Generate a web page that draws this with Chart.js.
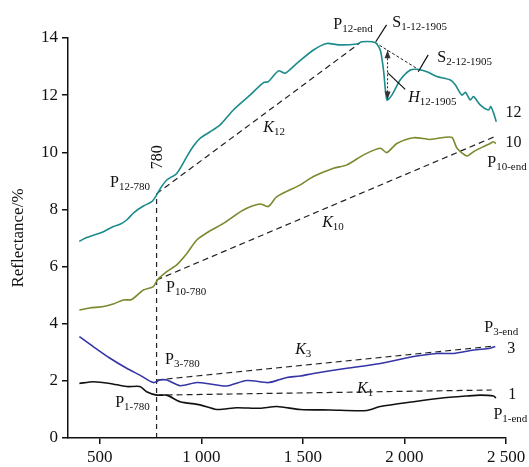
<!DOCTYPE html>
<html>
<head>
<meta charset="utf-8">
<script src="https://cdn.jsdelivr.net/npm/chart.js@4.4.0/dist/chart.umd.min.js"></script>
<style>
  html, body { margin: 0; padding: 0; background: #fff; }
  #wrap { width: 529px; height: 467px; }
</style>
</head>
<body>
<div id="wrap"><canvas id="specChart" width="529" height="467"></canvas></div>
<script>
// wavelength (nm) / reflectance (%)
var wl12 = [400, 430, 470, 518, 567, 600, 633, 670, 715, 756, 780, 800, 830, 879, 929, 960, 994, 1040, 1093, 1158, 1240, 1306, 1330, 1380, 1413, 1470, 1552, 1618, 1675, 1766, 1791, 1856, 1881, 1897, 1914, 1938, 1979, 2029, 2069, 2111, 2160, 2226, 2250, 2283, 2300, 2324, 2340, 2373, 2414, 2425, 2439, 2452];
var r12 = [6.88, 7.0, 7.1, 7.22, 7.40, 7.48, 7.63, 7.9, 8.12, 8.27, 8.5, 8.75, 9.03, 9.26, 9.85, 10.2, 10.49, 10.7, 10.96, 11.48, 12.0, 12.44, 12.47, 12.85, 12.77, 13.11, 13.58, 13.81, 13.76, 13.79, 13.87, 13.84, 13.58, 12.88, 11.83, 12.0, 12.53, 12.88, 12.9, 12.82, 12.65, 12.53, 12.36, 12.0, 12.1, 11.83, 11.95, 11.66, 11.48, 11.6, 11.37, 11.07];

var wl10 = [400, 450, 518, 570, 616, 658, 715, 764, 784, 830, 879, 929, 978, 1043, 1109, 1207, 1289, 1330, 1372, 1487, 1552, 1651, 1717, 1799, 1881, 1913, 1963, 2045, 2127, 2193, 2234, 2259, 2308, 2340, 2390, 2420, 2439, 2450];
var r10 = [4.48, 4.55, 4.6, 4.7, 4.83, 4.85, 5.18, 5.3, 5.53, 5.82, 6.06, 6.46, 6.93, 7.25, 7.51, 7.98, 8.19, 8.10, 8.45, 8.86, 9.15, 9.44, 9.56, 9.91, 10.14, 9.99, 10.31, 10.51, 10.45, 10.52, 10.52, 10.14, 9.87, 10.02, 10.2, 10.3, 10.37, 10.3];

var wl3 = [400, 468, 551, 633, 698, 764, 797, 830, 896, 978, 1043, 1125, 1224, 1330, 1388, 1421, 1487, 1552, 1717, 1881, 2045, 2160, 2242, 2340, 2422, 2447];
var r3 = [3.55, 3.2, 2.79, 2.44, 2.2, 1.94, 2.03, 2.03, 1.83, 1.94, 1.89, 1.82, 2.01, 1.94, 2.05, 2.12, 2.17, 2.26, 2.44, 2.61, 2.85, 2.96, 2.96, 3.08, 3.14, 3.2];

var wl1 = [400, 468, 551, 633, 698, 731, 781, 830, 896, 994, 1076, 1175, 1289, 1372, 1487, 1634, 1815, 1881, 2045, 2176, 2308, 2373, 2439, 2450];
var r1 = [1.91, 1.97, 1.91, 1.8, 1.8, 1.62, 1.5, 1.5, 1.27, 1.16, 1.0, 1.06, 1.04, 1.1, 1.0, 0.98, 0.96, 1.1, 1.27, 1.39, 1.47, 1.5, 1.47, 1.4];

// continuum (hull) lines: [start, end]
var k12 = [[780, 8.55], [1780, 13.82]];
var k10 = [[780, 5.53], [2445, 10.55]];
var k3 = [[780, 2.03], [2445, 3.22]];
var k1 = [[780, 1.5], [2430, 1.68]];
var cut780 = [[780, 0], [780, 8.55]];
var s12 = [[1856, 13.84], [2069, 12.9]];
var h12 = [[1917, 13.57], [1917, 11.85]];

var xTicks = [500, 1000, 1500, 2000, 2500];

var SERIF = '"Liberation Serif", "Times New Roman", serif';

function pts(xs, ys) { return xs.map(function (x, i) { return { x: x, y: ys[i] }; }); }
function seg(p) { return p.map(function (q) { return { x: q[0], y: q[1] }; }); }

function curve(xs, ys, color) {
  return { data: pts(xs, ys), borderColor: color, borderWidth: 1.6, pointRadius: 0, tension: 0.25, fill: false };
}
function dashed(p, dash, w) {
  return { data: seg(p), borderColor: '#222', borderWidth: w || 1.2, borderDash: dash || [6, 4], pointRadius: 0, fill: false };
}

// text annotations, anchored in data units
var notes = [
  { x: 551, y: 8.93, m: 'P', s: '12-780' },
  { x: 1305, y: 10.85, m: 'K', s: '12', it: true },
  { x: 1650, y: 14.46, m: 'P', s: '12-end' },
  { x: 1940, y: 14.53, m: 'S', s: '1-12-1905' },
  { x: 2162, y: 13.3, m: 'S', s: '2-12-1905' },
  { x: 2019, y: 11.9, m: 'H', s: '12-1905', it: true },
  { x: 2408, y: 9.63, m: 'P', s: '10-end' },
  { x: 1595, y: 7.53, m: 'K', s: '10', it: true },
  { x: 827, y: 5.25, m: 'P', s: '10-780' },
  { x: 822, y: 2.73, m: 'P', s: '3-780' },
  { x: 1462, y: 3.08, m: 'K', s: '3', it: true },
  { x: 2393, y: 3.85, m: 'P', s: '3-end' },
  { x: 1767, y: 1.72, m: 'K', s: '1', it: true },
  { x: 2438, y: 0.8, m: 'P', s: '1-end' },
  { x: 576, y: 1.23, m: 'P', s: '1-780' },
  { x: 2497, y: 11.38, m: '12' },
  { x: 2497, y: 10.33, m: '10' },
  { x: 2506, y: 3.12, m: '3' },
  { x: 2511, y: 1.5, m: '1' }
];
var leaders = [
  [[1912, 14.46], [1859, 13.87]],
  [[2117, 13.41], [2068, 12.82]],
  [[2004, 12.2], [1917, 12.79]]
];

var notePlugin = {
  id: 'notes',
  afterDraw: function (chart) {
    var c = chart.ctx, xs = chart.scales.x, ys = chart.scales.y;
    c.save();
    c.fillStyle = '#111';
    c.textBaseline = 'middle';
    c.textAlign = 'left';
    notes.forEach(function (n) {
      var px = xs.getPixelForValue(n.x), py = ys.getPixelForValue(n.y);
      c.font = (n.it ? 'italic ' : '') + '16px ' + SERIF;
      c.fillText(n.m, px, py);
      if (n.s) {
        var w = c.measureText(n.m).width;
        c.font = '11px ' + SERIF;
        c.fillText(n.s, px + w, py + 4);
      }
    });
    // rotated 780 label
    c.save();
    c.translate(xs.getPixelForValue(787), ys.getPixelForValue(9.83));
    c.rotate(-Math.PI / 2);
    c.textAlign = 'center';
    c.font = '16px ' + SERIF;
    c.fillText('780', 0, 0);
    c.restore();
    // leader lines
    c.strokeStyle = '#111';
    c.lineWidth = 1.2;
    leaders.forEach(function (l) {
      c.beginPath();
      c.moveTo(xs.getPixelForValue(l[0][0]), ys.getPixelForValue(l[0][1]));
      c.lineTo(xs.getPixelForValue(l[1][0]), ys.getPixelForValue(l[1][1]));
      c.stroke();
    });
    // arrow heads on the H depth line
    var ax = xs.getPixelForValue(h12[0][0]);
    var top = ys.getPixelForValue(h12[0][1]), bot = ys.getPixelForValue(h12[1][1]);
    c.fillStyle = '#333';
    c.beginPath();
    c.moveTo(ax, top); c.lineTo(ax - 3, top + 8); c.lineTo(ax + 3, top + 8); c.closePath(); c.fill();
    c.beginPath();
    c.moveTo(ax, bot); c.lineTo(ax - 3, bot - 8); c.lineTo(ax + 3, bot - 8); c.closePath(); c.fill();
    c.restore();
  }
};

new Chart(document.getElementById('specChart').getContext('2d'), {
  type: 'line',
  data: {
    datasets: [
      curve(wl12, r12, '#1b8b8b'),
      curve(wl10, r10, '#7a8a2e'),
      curve(wl3, r3, '#3535a6'),
      curve(wl1, r1, '#111111'),
      dashed(k12),
      dashed(k10),
      dashed(k3),
      dashed(k1),
      dashed(cut780, [5, 4]),
      dashed(s12, [3, 2], 1),
      dashed(h12, [2, 2], 1)
    ]
  },
  options: {
    responsive: false,
    animation: false,
    layout: { padding: { top: 38, right: 23, left: 0, bottom: 0 } },
    plugins: { legend: { display: false }, tooltip: { enabled: false } },
    scales: {
      x: {
        type: 'linear',
        min: 344,
        max: 2500,
        afterBuildTicks: function (s) { s.ticks = xTicks.map(function (v) { return { value: v }; }); },
        afterFit: function (s) { s.height = 29; },
        grid: { drawOnChartArea: false, drawTicks: true, tickLength: 6, color: '#111', lineWidth: 1.5 },
        border: { color: '#111', width: 1.5 },
        ticks: {
          color: '#111',
          padding: 3,
          maxRotation: 0,
          font: { family: SERIF, size: 17 },
          callback: function (v) { return v >= 1000 ? Math.floor(v / 1000) + ' ' + String(v % 1000).padStart(3, '0') : String(v); }
        }
      },
      y: {
        min: 0,
        max: 14,
        afterFit: function (s) { s.width = 68; },
        grid: { drawOnChartArea: false, drawTicks: true, tickLength: 6, color: '#111', lineWidth: 1.5 },
        border: { color: '#111', width: 1.5 },
        ticks: { stepSize: 2, color: '#111', padding: 4, font: { family: SERIF, size: 17 } },
        title: { display: true, text: 'Reflectance/%', color: '#111', padding: { top: 8, bottom: 0 }, font: { family: SERIF, size: 17 } }
      }
    }
  },
  plugins: [notePlugin]
});
</script>
</body>
</html>
